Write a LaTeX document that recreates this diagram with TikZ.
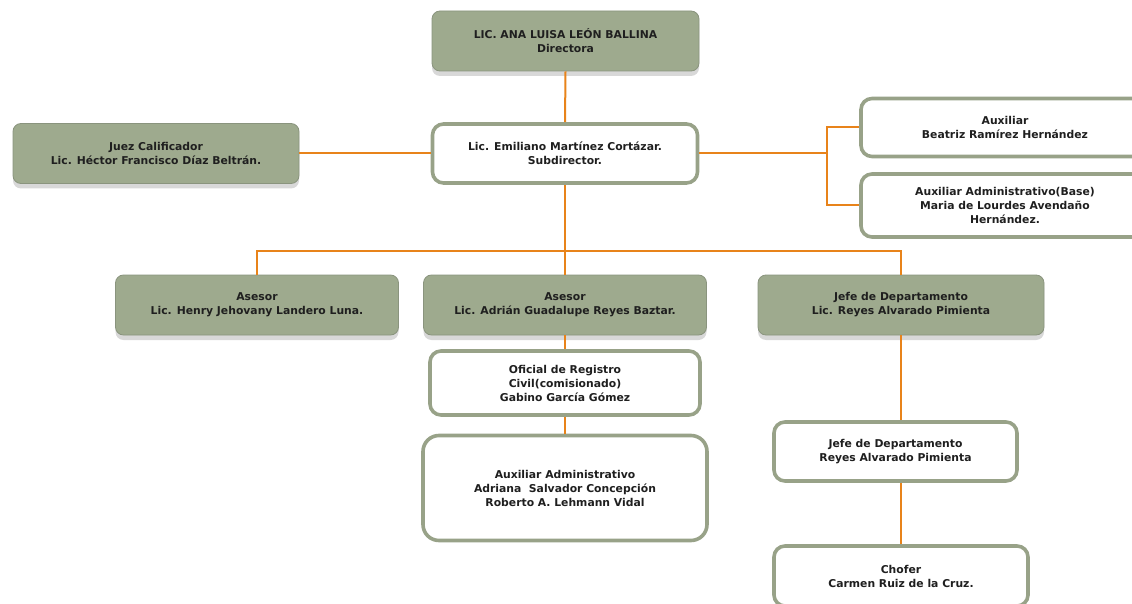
\documentclass[tikz,border=0pt]{standalone}
\usepackage{fontspec}
\setsansfont{DejaVu Sans}
\usetikzlibrary{shadows}
\definecolor{boxgreen}{RGB}{158,170,142}
\definecolor{boxedge}{RGB}{138,148,126}
\definecolor{whiteedge}{RGB}{152,162,136}
\definecolor{linkorange}{RGB}{232,131,26}
\begin{document}
\begin{tikzpicture}[
				x=1pt, y=-1pt,
				font=\sffamily,
				every node/.style={
						font=\sffamily\bfseries\fontsize{10.8}{14}\selectfont,
						align=center, inner sep=0pt, text=black!88,
					},
				greenbox/.style={
						draw=boxedge, line width=0.8pt, fill=boxgreen, rounded corners=8pt,
						drop shadow={opacity=0.3, shadow xshift=0pt, shadow yshift=-5pt},
					},
				whitebox/.style={
						draw=whiteedge, line width=3.6pt, fill=white, rounded corners=11pt,
					},
				link/.style={draw=linkorange, line width=2pt},]
			\clip (0,0) rectangle (1132,604);
			\fill[white] (0,0) rectangle (1132,604);
			% first level
			\node[greenbox, minimum width=267pt, minimum height=60pt] (dir) at (565.5,41) {LIC. ANA LUISA LEÓN BALLINA\\Directora};
			\node[whitebox, minimum width=265pt, minimum height=59pt] (sub) at (565,153.5) {Lic. Emiliano Martínez Cortázar.\\Subdirector.};
			\node[greenbox, minimum width=286pt, minimum height=60pt] (juez) at (156,153.5) {Juez Calificador\\Lic. Héctor Francisco Díaz Beltrán.};
			\node[whitebox, minimum width=288pt, minimum height=58pt] (aux) at (1005,127.5) {Auxiliar\\Beatriz Ramírez Hernández};
			\node[whitebox, minimum width=288pt, minimum height=63pt] (auxbase) at (1005,205.5) {Auxiliar Administrativo(Base)\\Maria de Lourdes Avendaño\\Hernández.};
			% second level
			\node[greenbox, minimum width=283pt, minimum height=60pt] (ases1) at (257,305) {Asesor\\Lic. Henry Jehovany Landero Luna.};
			\node[greenbox, minimum width=283pt, minimum height=60pt] (ases2) at (565,305) {Asesor\\Lic. Adrián Guadalupe Reyes Baztar.};
			\node[greenbox, minimum width=286pt, minimum height=60pt] (jefe) at (901,305) {Jefe de Departamento\\Lic. Reyes Alvarado Pimienta};
			% third level
			\node[whitebox, minimum width=270pt, minimum height=64pt] (ofic) at (565,383) {Oficial de Registro\\Civil(comisionado)\\Gabino García Gómez};
			\node[whitebox, minimum width=284pt, minimum height=105pt, rounded corners=16pt] (auxadm) at (565,488) {Auxiliar Administrativo\\Adriana\ \ Salvador Concepción\\Roberto A. Lehmann Vidal};
			\node[whitebox, minimum width=243pt, minimum height=59pt] (jefe2) at (895.5,451.5) {Jefe de Departamento\\Reyes Alvarado Pimienta};
			\node[whitebox, minimum width=254pt, minimum height=60pt] (chofer) at (901,576) {Chofer\\Carmen Ruiz de la Cruz.};
			% connectors
			\coordinate (rj) at (827,153.5);
			\coordinate (bus) at (565,251);
			\draw[link] (dir.south) -- (sub.north);
			\draw[link] (sub.west) -- (juez.east);
			\draw[link] (sub.east) -- (rj);
			\draw[link] (aux.west) -| (rj) |- (auxbase.west);
			\draw[link] (sub.south) -- (ases2.north);
			\draw[link] (ases1.north) |- (bus) -| (jefe.north);
			\draw[link] (ases2.south) -- (ofic.north);
			\draw[link] (ofic.south) -- (auxadm.north);
			\draw[link] (jefe.south) -- (jefe.south |- jefe2.north);
			\draw[link] (jefe.south |- jefe2.south) -- (jefe.south |- chofer.north);
		\end{tikzpicture}
\end{document}
